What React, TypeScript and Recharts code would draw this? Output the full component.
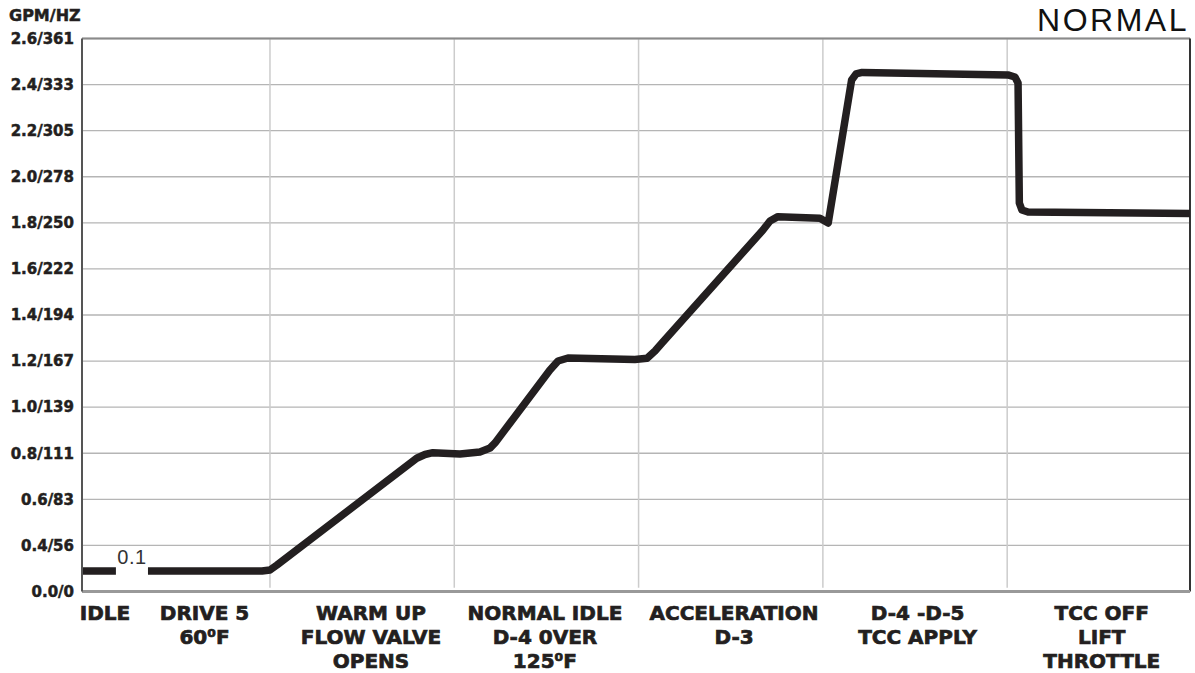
import React from 'react';
import {
  LineChart,
  Line,
  XAxis,
  YAxis,
  CartesianGrid,
  ReferenceLine,
  ReferenceDot,
} from 'recharts';

// Y axis is drawn on an index scale: each gridline is one step, labelled below.
const yTickLabels = [
  '0.0/0', '0.4/56', '0.6/83', '0.8/111', '1.0/139', '1.2/167', '1.4/194',
  '1.6/222', '1.8/250', '2.0/278', '2.2/305', '2.4/333', '2.6/361',
];
const yTicks = yTickLabels.map((_, i) => i);

// Stage section boundaries (vertical gridlines)
const stageBounds = [1, 2, 3, 4, 5];

// Stage label positions and text
const stageX = [0.105, 0.645, 1.548, 2.492, 3.518, 4.514, 5.513];
const stageLabels: string[][] = [
  ['IDLE'],
  ['DRIVE 5', '60⁰F'],
  ['WARM UP', 'FLOW VALVE', 'OPENS'],
  ['NORMAL IDLE', 'D-4 0VER', '125⁰F'],
  ['ACCELERATION', 'D-3'],
  ['D-4 -D-5', 'TCC APPLY'],
  ['TCC OFF', 'LIFT', 'THROTTLE'],
];

// Flow trace (x in stage units, y in gridline-step units)
const flowX = [
  -0.02, 0.164, 0.25, 0.338, 0.957, 1.0, 1.038, 1.796, 1.841, 1.884, 2.031,
  2.139, 2.194, 2.221, 2.519, 2.563, 2.617, 2.98, 3.046, 3.089, 3.127, 3.675,
  3.713, 3.756, 3.984, 4.029, 4.156, 4.18, 4.213, 5.004, 5.042, 5.059, 5.066,
  5.08, 5.113, 5.992,
];
const flowY: (number | null)[] = [
  0.445, 0.445, null, 0.445, 0.445, 0.467, 0.575, 2.891, 2.973, 3.012, 2.984,
  3.027, 3.114, 3.223, 4.807, 5.002, 5.067, 5.035, 5.061, 5.219, 5.393, 7.845,
  8.04, 8.134, 8.099, 7.997, 11.1, 11.23, 11.263, 11.209, 11.165, 11.035, 8.431,
  8.279, 8.236, 8.203,
];

const annotations = [{ x: 0.251, y: 0.75, text: '0.1' }];

const data = flowX.map((x, i) => ({ x, y: flowY[i] }));

const INK = '#231f20';

const StageTick = (props: any) => {
  const { x, y, payload } = props;
  const idx = stageX.indexOf(payload.value);
  const lines = idx >= 0 ? stageLabels[idx] : [];
  return (
    <text
      x={x}
      y={y}
      textAnchor="middle"
      fill={INK}
      stroke={INK}
      strokeWidth={0.7}
      fontFamily="'DejaVu Sans', sans-serif"
      fontWeight="bold"
      fontSize={20}
    >
      {lines.map((l, i) => (
        <tspan key={i} x={x} dy={i === 0 ? 28.5 : 23.8}>
          {l}
        </tspan>
      ))}
    </text>
  );
};

export default function App() {
  return (
    <div style={{ position: 'absolute', left: 0, top: 0, width: 1195, height: 673, background: '#fff' }}>
      <LineChart
        width={1195}
        height={673}
        data={data}
        margin={{ top: 38.5, right: 5, bottom: 1.5, left: 0 }}
      >
        <CartesianGrid vertical={false} stroke="#b5b5b5" strokeWidth={1.3} />
        {stageBounds.map((b) => (
          <ReferenceLine
            key={b}
            segment={[{ x: b, y: 0.08 }, { x: b, y: 12 }]}
            stroke="#cccccc"
            strokeWidth={1.5}
          />
        ))}
        <ReferenceLine y={12} stroke="#8a8a8a" strokeWidth={2} />
        <ReferenceLine x={5.992} stroke="#333" strokeWidth={2} />
        <XAxis
          dataKey="x"
          type="number"
          domain={[-0.02, 5.992]}
          allowDataOverflow
          ticks={stageX}
          interval={0}
          height={80}
          tickSize={0}
          tickMargin={0}
          tickLine={false}
          axisLine={{ stroke: '#999', strokeWidth: 3 }}
          tick={<StageTick />}
        />
        <YAxis
          type="number"
          domain={[0, 12]}
          ticks={yTicks}
          interval={0}
          width={82}
          tickLine={false}
          tickSize={6}
          tickMargin={2}
          axisLine={{ stroke: '#555', strokeWidth: 2 }}
          tickFormatter={(v: number) => yTickLabels[v] ?? ''}
          tick={{
            fill: INK,
            stroke: INK,
            strokeWidth: 0.5,
            fontFamily: "'DejaVu Sans', sans-serif",
            fontWeight: 'bold',
            fontSize: 15,
          }}
        />
        <Line
          dataKey="y"
          type="linear"
          stroke={INK}
          strokeWidth={7.5}
          strokeLinejoin="round"
          strokeLinecap="butt"
          dot={false}
          activeDot={false}
          connectNulls={false}
          isAnimationActive={false}
        />
        {annotations.map((a) => (
          <ReferenceDot
            key={a.text}
            x={a.x}
            y={a.y}
            r={0}
            fill="none"
            stroke="none"
            label={{
              value: a.text,
              position: 'center',
              fill: '#333',
              fontSize: 20,
              fontFamily: "'Liberation Sans', Arial, sans-serif",
              letterSpacing: 0.5,
            }}
          />
        ))}
      </LineChart>
      <svg
        width={1195}
        height={673}
        style={{ position: 'absolute', left: 0, top: 0, pointerEvents: 'none' }}
      >
        <text
          x={9}
          y={20.5}
          fill={INK}
          stroke={INK}
          strokeWidth={0.5}
          fontFamily="'DejaVu Sans', sans-serif"
          fontWeight="bold"
          fontSize={16}
        >
          GPM/HZ
        </text>
        <text
          x={1189}
          y={31}
          textAnchor="end"
          fill="#111"
          fontFamily="'Liberation Sans', Arial, sans-serif"
          fontSize={32}
          letterSpacing={2.5}
        >
          NORMAL
        </text>
      </svg>
    </div>
  );
}
